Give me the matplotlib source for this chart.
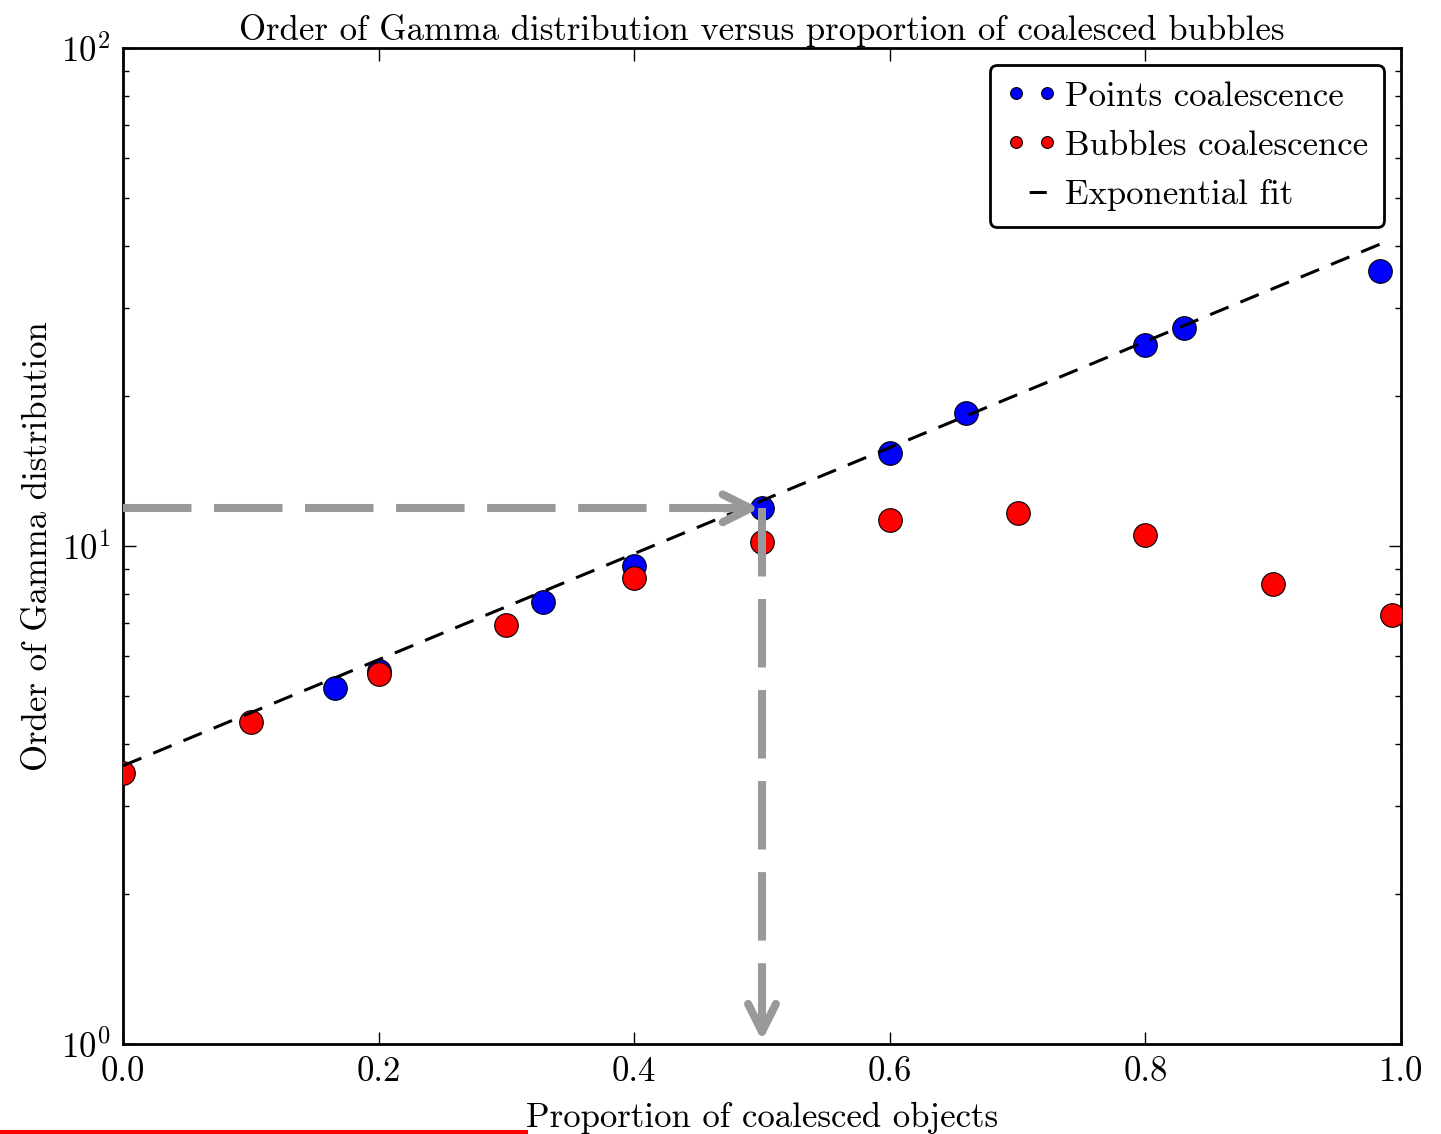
import matplotlib
matplotlib.use("Agg")
import matplotlib.pyplot as plt
from matplotlib.lines import Line2D

plt.rcParams.update({
    'font.family': 'serif',
    'font.serif': ['cmr10'],
    'mathtext.fontset': 'cm',
    'axes.formatter.use_mathtext': True,
    'axes.unicode_minus': False,
    'font.size': 25,
})

# blue: points coalescence
points_x = [0.166, 0.2, 0.329, 0.4, 0.5, 0.6, 0.66, 0.8, 0.83, 0.984]
points_y = [5.19, 5.62, 7.72, 9.12, 11.9, 15.4, 18.5, 25.3, 27.4, 35.7]

# red: bubbles coalescence
bubbles_x = [0.0, 0.1, 0.2, 0.3, 0.4, 0.5, 0.6, 0.7, 0.8, 0.9, 0.993]
bubbles_y = [3.50, 4.43, 5.53, 6.94, 8.63, 10.2, 11.3, 11.65, 10.5, 8.39, 7.27]

# exponential fit (straight on log axis, two end points)
fit_x = [0.0, 0.984]
fit_y = [3.62, 40.4]

# reading guide
guide_x = 0.5
guide_y = 11.9

fig = plt.figure(figsize=(14.41, 11.34), dpi=100)
fig.patch.set_facecolor('white')
ax = fig.add_axes([0.0854, 0.0794, 0.8868, 0.8783])

h1, = ax.plot(points_x, points_y, 'o', color='blue', markeredgecolor='black',
              markeredgewidth=0.8, markersize=17, label='Points coalescence', zorder=2)
h2, = ax.plot(bubbles_x, bubbles_y, 'o', color='red', markeredgecolor='black',
              markeredgewidth=0.8, markersize=17, label='Bubbles coalescence', zorder=3)
ax.plot(fit_x, fit_y, color='black', lw=2.2, linestyle=(0, (6.5, 4.2)), zorder=4)

gray = '#999999'
# horizontal guide
ax.plot([0, guide_x - 0.012], [guide_y, guide_y], color=gray, lw=5.8,
        linestyle=(0, (8.5, 2.8)), zorder=5, dash_capstyle='butt')
ax.annotate('', xy=(guide_x - 0.002, guide_y), xytext=(guide_x - 0.03, guide_y),
            arrowprops=dict(arrowstyle='->', color=gray, lw=5.8,
                            mutation_scale=50, shrinkA=0, shrinkB=0), zorder=5)
# vertical guide
ax.plot([guide_x, guide_x], [guide_y, 1.04], color=gray, lw=5.8,
        linestyle=(0, (8.5, 2.8)), zorder=5, dash_capstyle='butt')
ax.annotate('', xy=(guide_x, 1.015), xytext=(guide_x, 1.12),
            arrowprops=dict(arrowstyle='->', color=gray, lw=5.8,
                            mutation_scale=50, shrinkA=0, shrinkB=0), zorder=5)

ax.set_yscale('log')
ax.set_xlim(0, 1)
ax.set_ylim(1, 100)
ax.set_xticks([0.0, 0.2, 0.4, 0.6, 0.8, 1.0])
ax.set_xticklabels(['0.0', '0.2', '0.4', '0.6', '0.8', '1.0'])

for s in ax.spines.values():
    s.set_linewidth(2)
ax.tick_params(which='both', direction='in', top=True, right=True, labelsize=25)
ax.tick_params(which='major', length=9, width=1, pad=9)
ax.tick_params(which='minor', length=4.5, width=1)

ax.set_title('Order of Gamma distribution versus proportion of coalesced bubbles',
             fontsize=25, pad=6)
ax.set_xlabel('Proportion of coalesced objects', fontsize=25, labelpad=10)
ax.set_ylabel('Order of Gamma distribution', fontsize=25, labelpad=5)

# legend handle for the fit: a single short dash
fit_handle = Line2D([], [], color='black', lw=2.2, linestyle=(20.9, (5.6, 19.6)))
leg = ax.legend([h1, h2, fit_handle],
                ['Points coalescence', 'Bubbles coalescence', 'Exponential fit'],
                loc='upper right', numpoints=2, markerscale=0.5, fontsize=25,
                fancybox=True, framealpha=1, edgecolor='black',
                borderaxespad=0.5, handlelength=1.5, handletextpad=0.2,
                labelspacing=0.5, borderpad=0.45)
leg.get_frame().set_linewidth(2)

# red underline at the bottom edge
fig.add_artist(Line2D([0, 525 / 1441], [0.0022, 0.0022], color='red', lw=3.6,
                      transform=fig.transFigure))

fig.savefig('out.png', dpi=100, facecolor='white')
